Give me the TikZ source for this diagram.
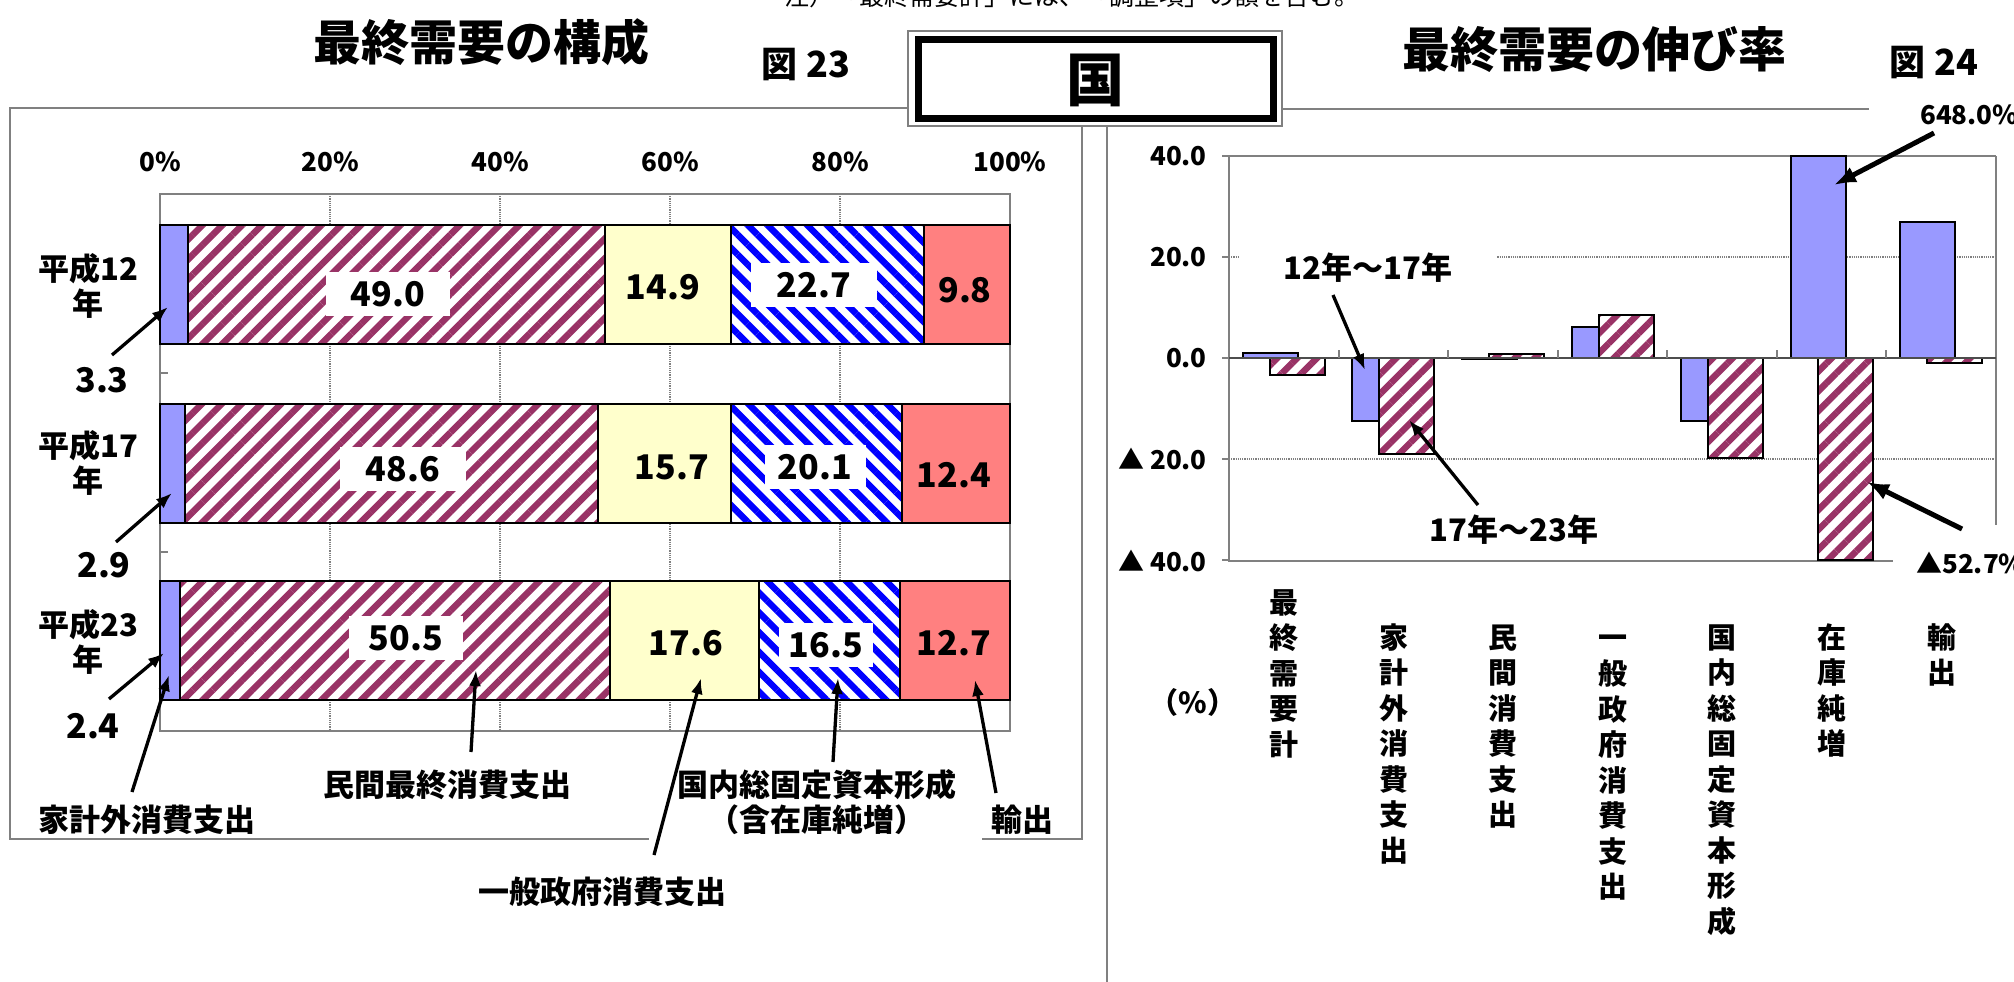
\documentclass[tikz,border=0pt]{standalone}
\usepackage{fontspec}
\setmainfont{Noto Sans CJK JP}
\usetikzlibrary{arrows.meta,patterns.meta}
\definecolor{barblue}{HTML}{9999FF}
\definecolor{plum}{HTML}{993366}
\definecolor{hatchblue}{HTML}{0000FF}
\definecolor{paleyellow}{HTML}{FFFFCC}
\definecolor{salmon}{HTML}{FF8080}
\definecolor{panelgray}{HTML}{808080}

\begin{document}
\begin{tikzpicture}[x=1pt,y=-1pt,
  lbl/.style={font=\bfseries\fontsize{31}{35.5}\selectfont,inner sep=0pt},
  vlbl/.style={font=\bfseries\fontsize{29}{35.5}\selectfont,inner sep=0pt,align=center,anchor=north},
  num/.style={font=\bfseries\fontsize{34}{40}\selectfont,inner sep=0pt},
  numbox/.style={num,fill=white,minimum height=44pt},
  axislbl/.style={font=\bfseries\fontsize{26}{30}\selectfont,inner sep=0pt},
  title/.style={font=\bfseries\fontsize{48}{56}\selectfont,inner sep=0pt},
  fignum/.style={font=\bfseries\fontsize{36}{40}\selectfont,inner sep=0pt},
  callout/.style={line width=3.3pt,-{Latex[length=16pt,width=12pt]}},
  bigcallout/.style={line width=5pt,-{Latex[length=22pt,width=17pt]}},
  panel/.style={panelgray,line width=2pt},
  gridline/.style={panelgray,line width=1.2pt,densely dotted},
  solidbar/.style={draw,line width=2pt,fill=barblue},
  purplehatch/.style={draw,line width=2pt,preaction={fill=white},
    pattern={Lines[angle=45,distance=14pt,line width=6.5pt]},pattern color=plum},
  bluehatch/.style={draw,line width=2pt,preaction={fill=white},
    pattern={Lines[angle=-45,distance=14pt,line width=6.5pt]},pattern color=hatchblue},
]
\useasboundingbox (0,0) rectangle (2014,982);
\fill[white] (0,0) rectangle (2014,982);

% note and titles
\node[font=\fontsize{25}{28}\selectfont,inner sep=0pt,anchor=base] (note) at (1072,6) {注）「最終需要計」には、「調整項」の額を含む。};
\node[title] (title23) at (481,42) {最終需要の構成};
\node[fignum] (fig23) at (806,65) {図 23};
\node[title] (title24) at (1594,50) {最終需要の伸び率};
\node[fignum] (fig24) at (1934,63) {図 24};

% frames and the box
\draw[panel] (908,108) -- (10,108) -- (10,839) -- (649,839);
\draw[panel] (982,839) -- (1082,839) -- (1082,126);
\draw[panel] (1282,109) -- (1869,109);
\draw[panel] (1107,126) -- (1107,982);
\draw[panelgray,line width=1.5pt,fill=white] (908,31) rectangle (1282,126);
\draw[line width=7pt] (918,40) rectangle (1273,118);
\node[font=\bfseries\fontsize{58}{64}\selectfont,inner sep=0pt] (kuni) at (1095,80) {国};

%% left chart
\foreach \p in {20,40,60,80}
  \draw[gridline] (160+8.5*\p,194) -- (160+8.5*\p,731);
\draw[panel] (160,194) rectangle (1010,731);
\draw[panel] (160,373) -- (168,373) (160,552) -- (168,552);
\foreach \p in {0,20,...,100}
  \node[axislbl] (pct\p) at (160+8.5*\p,162) {\p\%};

\foreach \y/\a/\b/\c/\d in {225/3.3/49.0/14.9/22.7, 404/2.9/48.6/15.7/20.1, 581/2.4/50.5/17.6/16.5} {
  \pgfmathsetmacro\xa{160+8.5*\a}
  \pgfmathsetmacro\xb{\xa+8.5*\b}
  \pgfmathsetmacro\xc{\xb+8.5*\c}
  \pgfmathsetmacro\xd{\xc+8.5*\d}
  \draw[solidbar] (160,\y) rectangle (\xa,\y+119);
  \draw[purplehatch] (\xa,\y) rectangle (\xb,\y+119);
  \draw[draw,line width=2pt,fill=paleyellow] (\xb,\y) rectangle (\xc,\y+119);
  \draw[bluehatch] (\xc,\y) rectangle (\xd,\y+119);
  \draw[draw,line width=2pt,fill=salmon] (\xd,\y) rectangle (1010,\y+119);
}

\node[lbl,align=center] (h12) at (88,286) {平成12\\年};
\node[lbl,align=center] (h17) at (88,463) {平成17\\年};
\node[lbl,align=center] (h23) at (88,642) {平成23\\年};

\node[numbox,minimum width=124pt] (v1b) at (388,294) {49.0};
\node[num] (v1c) at (663,287) {14.9};
\node[numbox,minimum width=126pt] (v1d) at (814,285) {22.7};
\node[num] (v1e) at (965,290) {9.8};
\node[numbox,minimum width=126pt] (v2b) at (403,469) {48.6};
\node[num] (v2c) at (672,467) {15.7};
\node[numbox,minimum width=101pt] (v2d) at (815,467) {20.1};
\node[num] (v2e) at (954,475) {12.4};
\node[numbox,minimum width=114pt] (v3b) at (406,638) {50.5};
\node[num] (v3c) at (686,643) {17.6};
\node[numbox,minimum width=94pt] (v3d) at (826,645) {16.5};
\node[num] (v3e) at (954,643) {12.7};

\node[num] (v1a) at (102,380) {3.3};
\node[num] (v2a) at (104,565) {2.9};
\node[num] (v3a) at (93,726) {2.4};
\coordinate (t1a) at (112,355); \coordinate (p1a) at (168,307);
\coordinate (t2a) at (116,542); \coordinate (p2a) at (172,493);
\coordinate (t3a) at (109,699); \coordinate (p3a) at (164,653);
\draw[callout] (t1a) -- (p1a);
\draw[callout] (t2a) -- (p2a);
\draw[callout] (t3a) -- (p3a);

\node[lbl] (kakei) at (147,820) {家計外消費支出};
\node[lbl] (minkan) at (447,785) {民間最終消費支出};
\node[lbl] (seifu) at (602,892) {一般政府消費支出};
\node[lbl,align=center] (kotei) at (817,802) {国内総固定資本形成\\（含在庫純増）};
\node[lbl] (yushutsu) at (1022,820) {輸出};
\coordinate (tkakei) at (132,792); \coordinate (pkakei) at (169,675);
\coordinate (tminkan) at (471,752); \coordinate (pminkan) at (476,670);
\coordinate (tseifu) at (654,855); \coordinate (pseifu) at (701,678);
\coordinate (tkotei) at (833,762); \coordinate (pkotei) at (838,678);
\coordinate (tyushutsu) at (996,793); \coordinate (pyushutsu) at (975,680);
\draw[callout] (tkakei) -- (pkakei);
\draw[callout] (tminkan) -- (pminkan);
\draw[callout] (tseifu) -- (pseifu);
\draw[callout] (tkotei) -- (pkotei);
\draw[callout] (tyushutsu) -- (pyushutsu);

%% right chart
\draw[gridline] (1229,257) -- (1996,257);
\draw[gridline] (1229,459) -- (1996,459);
\draw[panel] (1229,156) -- (1996,156);
\draw[panel] (1229,156) -- (1229,561) -- (1893,561);
\draw[panel] (1996,156) -- (1996,525);
\foreach \v in {40,20,0,-20,-40}
  \draw[panel] (1222,358-5.06*\v) -- (1229,358-5.06*\v);
\node[axislbl,anchor=east] (ry40) at (1207,156) {40.0};
\node[axislbl,anchor=east] (ry20) at (1207,257) {20.0};
\node[axislbl,anchor=east] (ry0) at (1207,358) {0.0};
\node[axislbl,anchor=east] (rym20) at (1207,459) {▲ 20.0};
\node[axislbl,anchor=east] (rym40) at (1207,561) {▲ 40.0};

\foreach \i/\u/\v in {1/0.9/-3.3, 2/-12.4/-18.9, 3/-0.2/0.7, 4/6.2/8.5, 5/-12.4/-19.8, 6/40/-40, 7/26.9/-1.0} {
  \pgfmathsetmacro\c{1229+(\i-0.5)*109.57}
  \draw[solidbar] (\c-41,358) rectangle (\c+14,358-5.06*\u);
  \draw[purplehatch] (\c-14,358) rectangle (\c+41,358-5.06*\v);
}
\draw[line width=2pt,panelgray!60!black] (1229,358) -- (1996,358);
\foreach \i in {1,...,6}
  \draw[panel] (1229+109.57*\i,350) -- (1229+109.57*\i,358);

\node[lbl,fill=white,minimum width=256pt,minimum height=40pt] (p1217) at (1368,268) {12年～17年};
\node[lbl] (p1723) at (1514,530) {17年～23年};
\coordinate (t1217) at (1333,295); \coordinate (q1217) at (1365,370);
\coordinate (t1723) at (1478,505); \coordinate (q1723) at (1409,420);
\draw[callout] (t1217) -- (q1217);
\draw[callout] (t1723) -- (q1723);

\node[axislbl,anchor=west] (hi648) at (1920,115) {648.0\%};
\node[axislbl,anchor=west] (lo527) at (1916,563) {▲52.7\%};
\coordinate (thi) at (1934,133); \coordinate (qhi) at (1834,185);
\coordinate (tlo) at (1962,529); \coordinate (qlo) at (1867,482);
\draw[bigcallout] (thi) -- (qhi);
\draw[bigcallout] (tlo) -- (qlo);

\node[font=\bfseries\fontsize{29}{32}\selectfont,inner sep=0pt] (unit) at (1193,702) {（\%）};
\node[vlbl] (cat1) at (1284,588) {\strut 最\\終\\需\\要\\計};
\node[vlbl] (cat2) at (1394,623) {\strut 家\\計\\外\\消\\費\\支\\出};
\node[vlbl] (cat3) at (1503,623) {\strut 民\\間\\消\\費\\支\\出};
\node[vlbl] (cat4) at (1613,623) {\strut 一\\般\\政\\府\\消\\費\\支\\出};
\node[vlbl] (cat5) at (1722,623) {\strut 国\\内\\総\\固\\定\\資\\本\\形\\成};
\node[vlbl] (cat6) at (1832,623) {\strut 在\\庫\\純\\増};
\node[vlbl] (cat7) at (1942,623) {\strut 輸\\出};
\end{tikzpicture}
\end{document}
